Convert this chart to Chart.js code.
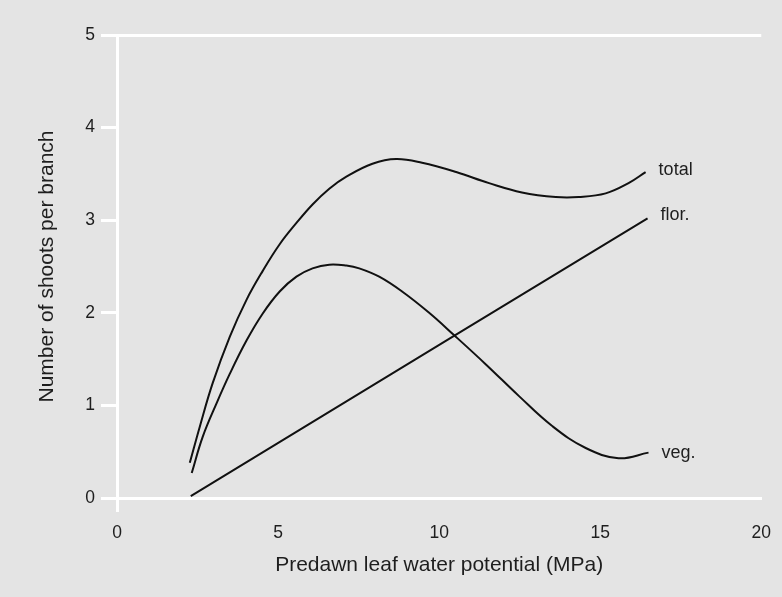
<!DOCTYPE html>
<html>
<head>
<meta charset="utf-8">
<script src="https://cdn.jsdelivr.net/npm/chart.js@4/dist/chart.umd.min.js"></script>
<style>
  html, body { margin: 0; padding: 0; background: #e4e4e4; }
  #wrap { width: 782px; height: 597px; position: relative; }
</style>
</head>
<body>
<div id="wrap"><canvas id="c" width="782" height="597"></canvas></div>
<script>
// Data
const totalX = [2.26, 2.57, 2.97, 3.50, 4.02, 4.52, 5.05, 5.57, 6.07, 6.59, 7.12, 7.93, 8.67, 9.47, 10.53, 11.55, 12.57, 13.62, 14.33, 15.17, 15.88, 16.41];
const totalY = [0.38, 0.77, 1.24, 1.74, 2.14, 2.45, 2.74, 2.97, 3.17, 3.34, 3.47, 3.61, 3.66, 3.62, 3.52, 3.40, 3.30, 3.25, 3.25, 3.29, 3.40, 3.52];

const vegX = [2.32, 2.66, 3.10, 3.50, 4.02, 4.52, 5.05, 5.57, 6.07, 6.59, 7.12, 7.52, 8.14, 8.85, 9.69, 10.46, 11.46, 12.48, 13.50, 14.55, 15.57, 16.50];
const vegY = [0.27, 0.66, 1.03, 1.34, 1.70, 1.99, 2.23, 2.39, 2.48, 2.52, 2.51, 2.48, 2.39, 2.23, 2.00, 1.76, 1.44, 1.10, 0.78, 0.54, 0.43, 0.49];

const florX = [2.29, 10.5, 16.47];
const florY = [0.02, 1.76, 3.02];

const seriesNames = ['total', 'flor.', 'veg.'];
const xTicks = [0, 5, 10, 15, 20];
const yTicks = [0, 1, 2, 3, 4, 5];

const xTitle = 'Predawn leaf water potential (MPa)';
const yTitle = 'Number of shoots per branch';

function pts(xs, ys) { return xs.map((x, i) => ({ x: x, y: ys[i] })); }

const FONT = "'Liberation Sans', Arial, Helvetica, sans-serif";
const TXT = '#1e1e1e';

const endLabels = {
  id: 'endLabels',
  afterDatasetsDraw(chart) {
    const ctx = chart.ctx;
    ctx.save();
    ctx.font = '18px ' + FONT;
    ctx.fillStyle = TXT;
    ctx.textBaseline = 'middle';
    ctx.textAlign = 'left';
    const offs = [-2, -3, 0];
    chart.data.datasets.forEach((ds, i) => {
      const meta = chart.getDatasetMeta(i);
      const last = meta.data[meta.data.length - 1];
      ctx.fillText(ds.label, last.x + 13, last.y + offs[i]);
    });
    ctx.restore();
  }
};

new Chart(document.getElementById('c'), {
  type: 'line',
  data: {
    datasets: [
      { label: seriesNames[0], data: pts(totalX, totalY), tension: 0.4 },
      { label: seriesNames[1], data: pts(florX, florY), tension: 0 },
      { label: seriesNames[2], data: pts(vegX, vegY), tension: 0.4 }
    ].map(d => Object.assign(d, {
      borderColor: '#111', borderWidth: 2, pointRadius: 0, fill: false
    }))
  },
  options: {
    responsive: false,
    animation: false,
    events: [],
    layout: { padding: { left: 0, right: 19, top: 35, bottom: 0 } },
    plugins: { legend: { display: false }, tooltip: { enabled: false } },
    scales: {
      x: {
        type: 'linear', min: 0, max: 20,
        afterFit(s) { s.height = 99; },
        afterBuildTicks(s) { s.ticks = xTicks.map(v => ({ value: v })); },
        border: { display: true, color: '#ffffff', width: 3 },
        grid: {
          drawOnChartArea: false, drawTicks: true, tickLength: 14, tickWidth: 3,
          tickColor: c => (c.tick && c.tick.value === 0 ? '#ffffff' : 'rgba(0,0,0,0)')
        },
        ticks: { padding: 11, color: TXT, font: { family: FONT, size: 17.5 } },
        title: { display: true, text: xTitle, color: TXT, font: { family: FONT, size: 21 }, padding: { top: 0, bottom: 19 } }
      },
      y: {
        type: 'linear', min: 0, max: 5,
        afterFit(s) { s.width = 117; },
        afterBuildTicks(s) { s.ticks = yTicks.map(v => ({ value: v })); },
        border: { display: true, color: '#ffffff', width: 3 },
        grid: {
          drawOnChartArea: true, drawTicks: true, tickLength: 16, tickWidth: 3,
          color: c => (c.tick && c.tick.value === 5 ? '#ffffff' : 'rgba(0,0,0,0)'),
          lineWidth: 3,
          tickColor: '#ffffff'
        },
        ticks: { padding: 6, color: TXT, font: { family: FONT, size: 17.5 } },
        title: { display: true, text: yTitle, color: TXT, font: { family: FONT, size: 21 }, padding: { top: 35, bottom: 0 } }
      }
    }
  },
  plugins: [endLabels]
});
</script>
</body>
</html>
